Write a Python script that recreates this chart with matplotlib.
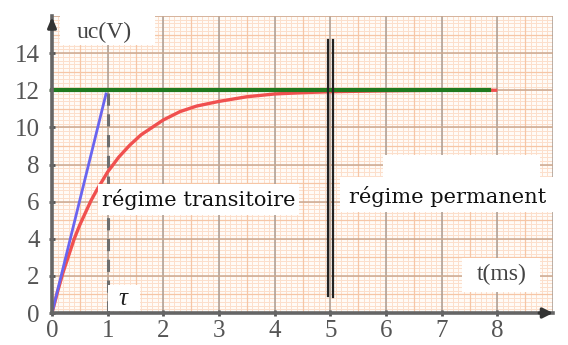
import matplotlib
matplotlib.use("Agg")
import matplotlib.pyplot as plt
import numpy as np
from matplotlib.patches import Rectangle

# ---- data ----
t_ms = [0, 0.1, 0.2, 0.3, 0.4, 0.5, 0.6, 0.7, 0.8, 0.9, 1.0, 1.2, 1.4, 1.6, 1.8,
        2.0, 2.3, 2.6, 3.0, 3.5, 4.0, 4.5, 5.0, 6.0, 7.0, 8.0]
uc_v = [0, 1.15, 2.2, 3.1, 4.0, 4.75, 5.4, 6.05, 6.6, 7.1, 7.6, 8.4, 9.05, 9.6, 10.0,
        10.4, 10.85, 11.15, 11.4, 11.65, 11.8, 11.87, 11.92, 11.97, 12.0, 12.0]
E_level = 12
green_t = [0, 7.85]
tangent_t = [0, 0.97]
tangent_u = [0, 11.8]
tau = 1
t_perm = [4.95, 5.04]
perm_u = [[0.9, 14.7], [0.85, 14.7]]
x_ticks = [0, 1, 2, 3, 4, 5, 6, 7, 8]
y_ticks = [0, 2, 4, 6, 8, 10, 12, 14]

W, H = 568, 345
fig = plt.figure(figsize=(W / 100, H / 100), dpi=100)
fig.patch.set_facecolor("white")
ax = fig.add_axes([52 / W, (H - 313) / H, (553 - 52) / W, (313 - 16) / H])
ax.set_xlim(0, 9)
ax.set_ylim(0, 16)
ax.set_facecolor("#fffbf7")

serif = ["Liberation Serif", "DejaVu Serif"]
slab = ["DejaVu Serif"]

# graph paper
for xv in np.arange(0, 9.001, 0.1):
    ax.axvline(xv, color="#fcdfcb", lw=0.7, zorder=0)
for yv in np.arange(0, 16.001, 0.2):
    ax.axhline(yv, color="#fcdfcb", lw=0.7, zorder=0)
for xv in np.arange(0.5, 9, 1.0):
    ax.axvline(xv, color="#f6c6a6", lw=0.9, zorder=0)
for yv in np.arange(1, 16, 2):
    ax.axhline(yv, color="#f6c6a6", lw=0.9, zorder=0)
for xv in range(1, 10):
    ax.axvline(xv, color="#aa9c92", lw=1.1, zorder=0.5)
for yv in range(2, 17, 2):
    ax.axhline(yv, color="#cba88f", lw=1.1, zorder=0.5)

# curves
ax.plot(t_ms, uc_v, color="#f0504f", lw=2.4, zorder=2, solid_capstyle="butt")
ax.plot(green_t, [E_level, E_level], color="#1f7a1f", lw=3.0, zorder=2.5, clip_on=False)
ax.plot(tangent_t, tangent_u, color="#6a64f0", lw=2.0, zorder=2.2)
ax.plot([tau, tau], [0, 12.3], color="#6e6e6e", lw=2.2, ls=(0, (4, 2.8)), zorder=1.8)
for x, (y0, y1) in zip(t_perm, perm_u):
    ax.plot([x, x], [y0, y1], color="#222222", lw=1.6, zorder=3)

# white boxes behind labels
boxes = [
    (0.83, 5.3, 3.6, 1.65),    # régime transitoire
    (5.17, 5.44, 3.9, 1.9),    # régime permanent
    (5.94, 7.33, 2.82, 1.2),   # blank patch
    (7.36, 1.13, 1.4, 1.83),   # t(ms)
    (1.0, 0.1, 0.58, 1.4),     # tau
    (0.14, 14.45, 1.71, 1.55), # uc(V)
]
for (bx, by, bw, bh) in boxes:
    ax.add_patch(Rectangle((bx, by), bw, bh, facecolor="white", edgecolor="none",
                           zorder=2.8, clip_on=False))

ax.text(2.63, 6.1, "régime transitoire", family=slab, fontsize=15,
        ha="center", va="center", color="#111111", zorder=4)
ax.text(7.1, 6.3, "régime permanent", family=slab, fontsize=15,
        ha="center", va="center", color="#111111", zorder=4)
ax.text(8.08, 2.05, "t(ms)", family=serif, fontsize=17,
        ha="center", va="center", color="#444444", zorder=4)
ax.text(1.27, 0.75, "τ", family=serif, fontsize=18, style="italic",
        ha="center", va="center", color="#222222", zorder=4)
ax.text(0.93, 15.1, "uc(V)", family=serif, fontsize=17,
        ha="center", va="center", color="#444444", zorder=4)

# axes
for s in ["top", "right"]:
    ax.spines[s].set_visible(False)
for s in ["left", "bottom"]:
    ax.spines[s].set_color("#666666")
    ax.spines[s].set_linewidth(2.6)
    ax.spines[s].set_zorder(5)
ax.set_xticks(x_ticks)
ax.set_yticks(y_ticks)
ax.set_xticklabels([str(v) for v in x_ticks], family=serif, fontsize=18, color="#555555")
ax.set_yticklabels([str(v) for v in y_ticks], family=serif, fontsize=18, color="#555555")
ax.tick_params(axis="both", length=4, width=2, color="#555555", direction="inout", pad=3)
ax.tick_params(axis="y", pad=7)

# arrow heads
ax.annotate("", xy=(9.05, 0), xytext=(8.7, 0), xycoords="data",
            arrowprops=dict(arrowstyle="-|>,head_length=0.6,head_width=0.3",
                            color="#333333", lw=2.2), annotation_clip=False, zorder=6)
ax.annotate("", xy=(0, 16.1), xytext=(0, 15.3), xycoords="data",
            arrowprops=dict(arrowstyle="-|>,head_length=0.6,head_width=0.25",
                            color="#333333", lw=2.2), annotation_clip=False, zorder=6)

fig.savefig("out.png", dpi=100, facecolor="white")
